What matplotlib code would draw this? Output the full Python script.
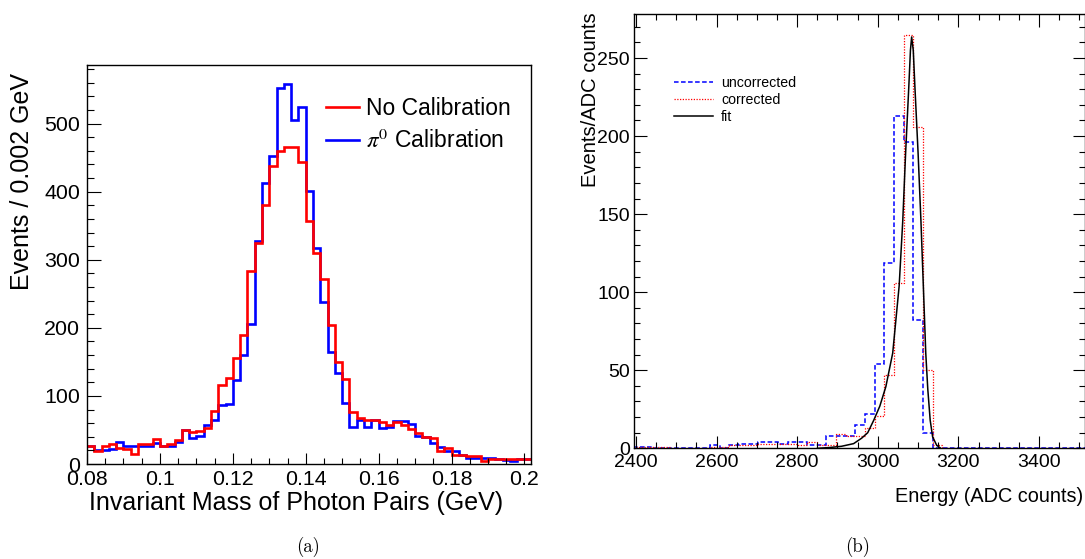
import numpy as np
import matplotlib.pyplot as plt
from matplotlib.ticker import MultipleLocator, FuncFormatter

plt.rcParams['font.family'] = 'Liberation Sans'
plt.rcParams['mathtext.fontset'] = 'stix'

# (a) invariant mass histograms, 0.002 GeV bins starting at 0.08 GeV
mass_lo = 0.08
mass_bin = 0.002
no_calib = [26, 19, 26, 29, 23, 22, 15, 29, 30, 37, 27, 29, 36, 50, 47, 48, 53, 78, 116, 127,
            155, 190, 283, 324, 380, 438, 460, 465, 465, 444, 357, 310, 271, 204, 150, 125, 77,
            68, 64, 64, 62, 58, 62, 57, 52, 45, 40, 38, 19, 23, 13, 13, 12, 12, 4, 8, 8, 7, 8, 8, 8]
pi0_calib = [27, 20, 20, 22, 33, 26, 27, 27, 27, 31, 26, 27, 33, 50, 38, 41, 57, 65, 86, 88,
             124, 160, 205, 327, 412, 452, 552, 558, 505, 525, 401, 317, 238, 164, 133, 89, 54,
             64, 54, 64, 53, 54, 63, 63, 59, 41, 40, 31, 25, 19, 19, 13, 9, 9, 9, 9, 8, 6, 5, 8, 8]

# (b) energy spectra, 24 ADC count bins starting at 2392
adc_lo = 2392
adc_bin = 24
uncorrected = [1, 1, 0, 0, 0, 0, 0, 0, 2, 0, 2, 3, 3, 4, 4, 3, 4, 4, 2, 2, 8, 8, 8, 15, 22,
               54, 119, 213, 196, 82, 10, 0, 0, 0, 0, 0, 0, 0, 0, 0, 0, 0, 0, 0, 0, 0, 0]
corrected = [1, 1, 1, 1, 0, 0, 0, 0, 1, 1, 2, 2, 2, 3, 3, 3, 3, 2, 4, 2, 2, 9, 8, 8, 13,
             21, 47, 106, 265, 206, 50, 2, 0, 0, 0, 0, 0, 0, 0, 0, 0, 0, 0, 0, 0, 0, 0]
fit_x = [2850, 2880, 2910, 2940, 2960, 2975, 2990, 3005, 3020, 3037, 3053, 3062, 3069, 3077,
         3081, 3084, 3088, 3092, 3100, 3107, 3113, 3119, 3124, 3130, 3136, 3146, 3156]
fit_y = [0, 0.5, 1.3, 3, 6.5, 10, 18, 27, 39.5, 61, 104, 146, 189, 232,
         255, 263.5, 255, 232, 189, 146, 104, 61, 38, 18, 7.4, 2, 0]

mass_edges = mass_lo + mass_bin * np.arange(len(no_calib) + 1)
adc_edges = adc_lo + adc_bin * np.arange(len(uncorrected) + 1)

fig = plt.figure(figsize=(10.85, 5.59), dpi=100)

# ---- left panel
ax1 = fig.add_axes([0.0802, 0.1699, 0.4092, 0.7138])
ax1.stairs(pi0_calib, mass_edges, baseline=None, color='#0000ff', lw=1.9,
           label=r'$\pi^{0}$ Calibration')
ax1.stairs(no_calib, mass_edges, baseline=None, color='#ff0000', lw=1.9,
           label='No Calibration')
ax1.set_xlim(0.08, 0.2018)
ax1.set_ylim(0, 586)
ax1.xaxis.set_major_locator(MultipleLocator(0.02))
ax1.xaxis.set_minor_locator(MultipleLocator(0.005))
ax1.yaxis.set_major_locator(MultipleLocator(100))
ax1.yaxis.set_minor_locator(MultipleLocator(20))
ax1.xaxis.set_major_formatter(FuncFormatter(lambda v, p: '%g' % round(v, 4)))
ax1.tick_params(which='both', direction='in', top=False, right=False, labelsize=15.4, width=0.8)
ax1.tick_params(axis='x', which='major', length=8, pad=4)
ax1.tick_params(axis='x', which='minor', length=4.3)
ax1.tick_params(axis='y', which='major', length=10, pad=5)
ax1.tick_params(axis='y', which='minor', length=5)
for s in ax1.spines.values():
    s.set_linewidth(1.0)
ax1.set_xlabel('Invariant Mass of Photon Pairs (GeV)', fontsize=18, va='center')
ax1.xaxis.set_label_coords(0.47, -0.098)
ax1.set_ylabel('Events / 0.002 GeV', fontsize=18, va='center')
ax1.yaxis.set_label_coords(-0.146, 0.707)
h, l = ax1.get_legend_handles_labels()
ax1.legend(h[::-1], l[::-1], loc='upper left', bbox_to_anchor=(0.538, 0.92), frameon=False,
           fontsize=16.5, handlelength=1.45, handletextpad=0.3, labelspacing=0.45,
           borderpad=0, borderaxespad=0)

# ---- right panel
ax2 = fig.add_axes([0.5839, 0.198, 0.4157, 0.7764])
ax2.stairs(uncorrected, adc_edges, baseline=None, color='#0000ff', lw=1.1,
           ls=(0, (3, 1.6)), label='uncorrected')
ax2.stairs(corrected, adc_edges, baseline=None, color='#ff0000', lw=0.9,
           ls=(0, (1, 1.2)), label='corrected')
ax2.plot(fit_x, fit_y, color='black', lw=1.1, label='fit')
ax2.set_xlim(2394, 3513)
ax2.set_ylim(0, 278)
ax2.xaxis.set_major_locator(MultipleLocator(200))
ax2.xaxis.set_minor_locator(MultipleLocator(50))
ax2.yaxis.set_major_locator(MultipleLocator(50))
ax2.yaxis.set_minor_locator(MultipleLocator(10))
ax2.tick_params(which='both', direction='in', top=True, right=True, labelsize=14, width=0.8)
ax2.tick_params(which='major', length=9)
ax2.tick_params(which='minor', length=4.5)
ax2.tick_params(axis='x', pad=4)
ax2.tick_params(axis='y', pad=2.5)
for s in ax2.spines.values():
    s.set_linewidth(1.0)
ax2.set_xlabel('Energy (ADC counts)', fontsize=14.3, ha='right', va='center')
ax2.xaxis.set_label_coords(0.9967, -0.112)
ax2.set_ylabel('Events/ADC counts', fontsize=14.5, ha='right', va='center')
ax2.yaxis.set_label_coords(-0.095, 1.005)
ax2.legend(loc='upper left', bbox_to_anchor=(0.0898, 0.858), frameon=False,
           fontsize=10.2, handlelength=2.75, handletextpad=0.56, labelspacing=0.2,
           borderpad=0, borderaxespad=0)

fig.text(0.2839, 0.022, '(a)', family='cmr10', fontsize=13.5, ha='center', va='center')
fig.text(0.7908, 0.022, '(b)', family='cmr10', fontsize=13.5, ha='center', va='center')

fig.savefig('out.png', dpi=100)
